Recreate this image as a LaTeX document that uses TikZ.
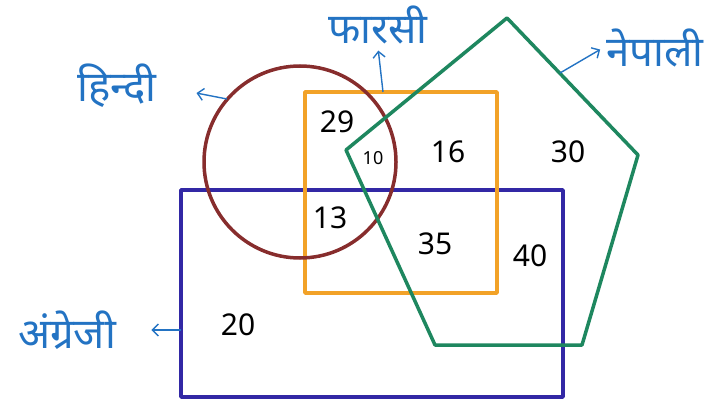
\documentclass[tikz,border=0pt]{standalone}
\usepackage{fontspec}
\usepackage{tikz}
\usetikzlibrary{arrows.meta}
\newfontfamily\devfont[Script=Devanagari]{Noto Sans}
\definecolor{hindiBrown}{RGB}{135, 45, 45}
\definecolor{farsiOrange}{RGB}{242, 162, 40}
\definecolor{nepaliGreen}{RGB}{30, 135, 95}
\definecolor{englishBlue}{RGB}{50, 40, 165}
\definecolor{labelBlue}{RGB}{35, 115, 195}

\begin{document}
\begin{tikzpicture}[x=1pt, y=-1pt,
	edge/.style={line width=3.5pt, line join=round},
	lbl/.style={text=labelBlue, font=\devfont\fontsize{42}{44}\selectfont},
	num/.style={font=\devfont\fontsize{30}{32}\selectfont},
	pointer/.style={-{Straight Barb[length=6pt]}, line width=1.4pt, labelBlue}]
	\useasboundingbox (0,0) rectangle (719,406);
	
	% English: big rectangle
	\draw[edge, englishBlue] (181,190) rectangle (563,397);
	
	% Farsi: square
	\draw[edge, farsiOrange] (305,92) rectangle (497,293);
	
	% Hindi: circle
	\draw[edge, hindiBrown] (300,162) circle (96);
	
	% Nepali: pentagon
	\draw[edge, nepaliGreen] (507,18) -- (638,155) -- (582,345) -- (435,345) -- (346,150) -- cycle;
	
	% Set names with pointers
	\node[lbl] (hindi) at (117,86) {हिन्दी};
	\node[lbl] (farsi) at (378,25) {फारसी};
	\node[lbl] (nepali) at (655,48) {नेपाली};
	\node[lbl] (angrezi) at (67,330) {अंग्रेजी};
	\coordinate (hindiFoot) at (227,99);
	\coordinate (farsiFoot) at (383,92);
	\coordinate (nepaliFoot) at (560,73);
	\coordinate (angreziFoot) at (181,330);
	\draw[pointer, shorten >=37pt] (hindiFoot) -- (hindi.east);
	\draw[pointer, shorten >=3pt] (farsiFoot) -- (farsi.south);
	\draw[pointer, shorten >=3pt] (nepaliFoot) -- (nepali.west);
	\draw[pointer, shorten >=32pt] (angreziFoot) -- (angrezi.east);
	
	% Counts in each region
	\node[num] (n29) at (337,122) {29};
	\node[num, font=\devfont\fontsize{18}{20}\selectfont] (n10) at (373,158) {10};
	\node[num] (n16) at (448,152) {16};
	\node[num] (n30) at (568,152) {30};
	\node[num] (n13) at (330,218) {13};
	\node[num] (n35) at (435,244) {35};
	\node[num] (n40) at (530,256) {40};
	\node[num] (n20) at (238,325) {20};
\end{tikzpicture}
\end{document}
